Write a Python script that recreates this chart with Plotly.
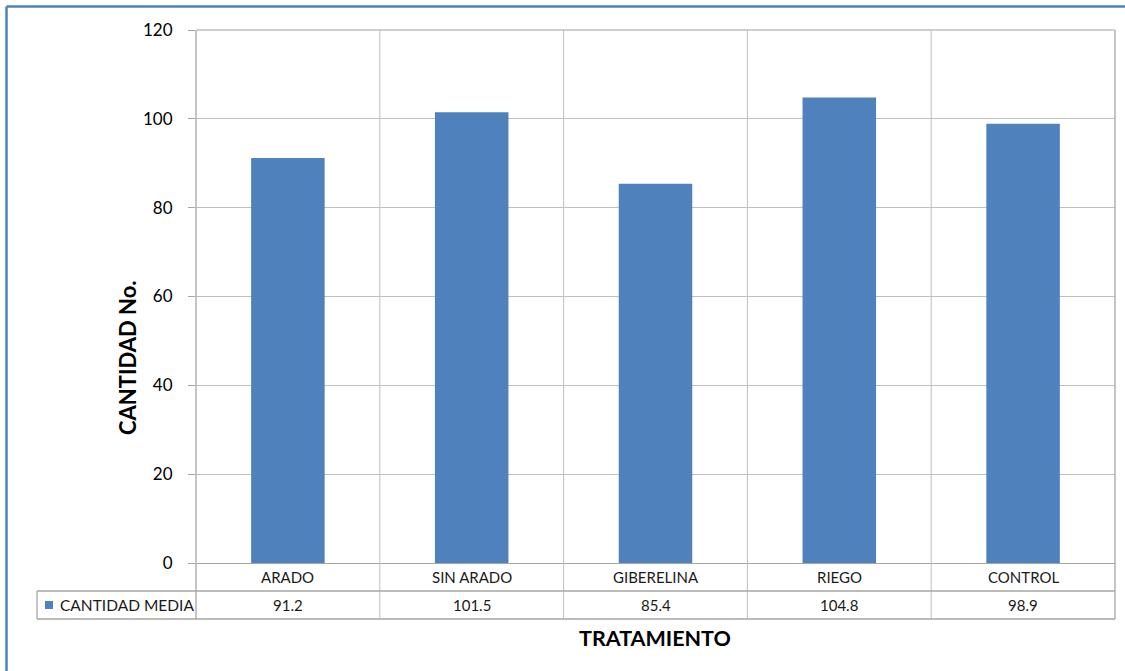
import plotly.graph_objects as go

# Data
categories = ["ARADO", "SIN ARADO", "GIBERELINA", "RIEGO", "CONTROL"]
cantidad_media = [91.2, 101.5, 85.4, 104.8, 98.9]
series_name = "CANTIDAD MEDIA"
y_ticks = [0, 20, 40, 60, 80, 100, 120]

W, H = 1125, 671
L, R, T, B = 196, 10, 30, 108
PW, PH = W - L - R, H - T - B

BAR = "#4F81BD"
GRID = "#BFBFBF"
TABLE = "#A6A6A6"
FONT = "Lato, 'Open Sans', sans-serif"
TEXT = "#1a1a1a"


def px(x):
    return (x - L) / PW


def py(y):
    return (H - B - y) / PH


fig = go.Figure(
    go.Bar(
        x=categories,
        y=cantidad_media,
        marker=dict(color=BAR, line=dict(width=0)),
        width=0.4,
        name=series_name,
        showlegend=False,
    )
)

shapes = []
annotations = []

# Vertical grid lines between categories, continued through the data table
n = len(categories)
for i in range(n - 1):
    shapes.append(dict(type="line", xref="x", yref="paper",
                       x0=i + 0.5, x1=i + 0.5, y0=1, y1=py(619),
                       line=dict(color=GRID, width=1)))

# Left and right frame of plot + table
shapes.append(dict(type="line", xref="paper", yref="paper", x0=0, x1=0,
                   y0=1, y1=py(619), line=dict(color=TABLE, width=1.3)))
shapes.append(dict(type="line", xref="paper", yref="paper", x0=1, x1=1,
                   y0=1, y1=py(619), line=dict(color=TABLE, width=1.3)))
shapes.append(dict(type="line", xref="paper", yref="paper", x0=0, x1=1,
                   y0=1, y1=1, line=dict(color=GRID, width=1.3)))

# Table horizontal rules and left edge
for yy in (591, 619):
    shapes.append(dict(type="line", xref="paper", yref="paper",
                       x0=px(37), x1=1, y0=py(yy), y1=py(yy),
                       line=dict(color=TABLE, width=1.3)))
shapes.append(dict(type="line", xref="paper", yref="paper",
                   x0=px(37), x1=px(37), y0=py(591), y1=py(619),
                   line=dict(color=TABLE, width=1.3)))

# Legend key inside the table
shapes.append(dict(type="rect", xref="paper", yref="paper",
                   x0=px(45), x1=px(53), y0=py(601), y1=py(609),
                   fillcolor=BAR, line=dict(width=0)))
annotations.append(dict(xref="paper", yref="paper", x=px(58), y=py(605),
                        text=series_name, showarrow=False, xanchor="left",
                        yanchor="middle", font=dict(family=FONT, size=15.5, color=TEXT)))

# Category names and values in the table
for c, v in zip(categories, cantidad_media):
    annotations.append(dict(xref="x", yref="paper", x=c, y=py(577), text=c,
                            showarrow=False, yanchor="middle",
                            font=dict(family=FONT, size=15, color=TEXT)))
    annotations.append(dict(xref="x", yref="paper", x=c, y=py(605), text=f"{v:.1f}",
                            showarrow=False, yanchor="middle",
                            font=dict(family=FONT, size=15, color=TEXT)))

# Axis titles
annotations.append(dict(xref="paper", yref="paper", x=px(127), y=py(358),
                        text="<b>CANTIDAD No.</b>", textangle=-90, showarrow=False,
                        xanchor="center", yanchor="middle",
                        font=dict(family=FONT, size=22, color="#000000")))
annotations.append(dict(xref="paper", yref="paper", x=px(655), y=py(638),
                        text="<b>TRATAMIENTO</b>", showarrow=False,
                        xanchor="center", yanchor="middle",
                        font=dict(family=FONT, size=21.5, color="#000000")))

# Outer chart border: top and left edges
shapes.append(dict(type="line", xref="paper", yref="paper",
                   x0=px(6.5), x1=px(W + 5), y0=py(6.5), y1=py(6.5),
                   line=dict(color="#4F81BD", width=2.5), layer="above"))
shapes.append(dict(type="line", xref="paper", yref="paper",
                   x0=px(6.5), x1=px(6.5), y0=py(6.5), y1=py(H + 5),
                   line=dict(color="#4F81BD", width=2.5), layer="above"))

fig.update_layout(
    width=W, height=H,
    margin=dict(l=L, r=R, t=T, b=B),
    paper_bgcolor="white", plot_bgcolor="white",
    bargap=0.6,
    shapes=shapes,
    annotations=annotations,
    xaxis=dict(type="category", showticklabels=False, showgrid=False,
               showline=False, zeroline=False, ticks="", range=[-0.5, n - 0.5],
               fixedrange=True),
    yaxis=dict(range=[0, 120], tickvals=y_ticks, showgrid=True, gridcolor=GRID,
               gridwidth=1, zeroline=True, zerolinecolor=TABLE, zerolinewidth=1.3,
               showline=False, ticks="outside", ticklen=7, tickcolor=TABLE,
               tickfont=dict(family=FONT, size=17, color="#000000"),
               ticklabelstandoff=12, fixedrange=True),
)

# Keep the page itself from scrolling
page_css = ("document.documentElement.style.overflow='hidden';"
            "document.body.style.overflow='hidden';"
            "document.body.style.margin='0';")

fig.write_html("out.html", config={"displayModeBar": False}, post_script=page_css)
